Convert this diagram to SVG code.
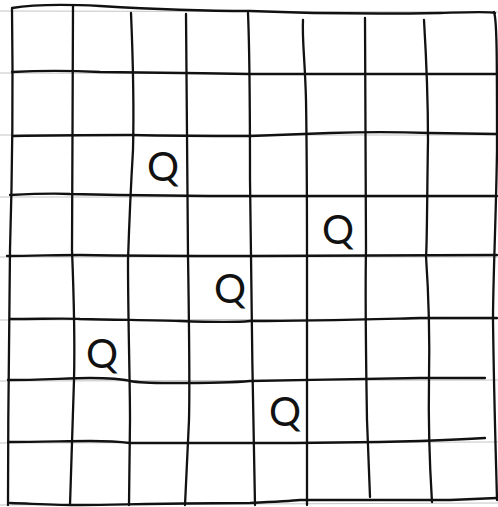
<svg xmlns="http://www.w3.org/2000/svg" width="498" height="507" viewBox="0 0 498 507">
<style>
.rule{stroke:#c4c4c4;stroke-width:1;fill:none}
.ln{stroke:#111;stroke-width:2.3;fill:none;stroke-linecap:round;stroke-linejoin:round}
.q{font-family:"Lato","DejaVu Sans",sans-serif;font-size:40px;font-weight:400;fill:#111;text-anchor:middle}
</style>
<rect width="498" height="507" fill="#fff"/>
<g id="ruling">
<line class="rule" x1="0" y1="11" x2="498" y2="12"/>
<line class="rule" x1="0" y1="73" x2="498" y2="74"/>
<line class="rule" x1="0" y1="135" x2="498" y2="135"/>
<line class="rule" x1="0" y1="197" x2="498" y2="197"/>
<line class="rule" x1="0" y1="257" x2="498" y2="257"/>
<line class="rule" x1="0" y1="320" x2="498" y2="319"/>
<line class="rule" x1="0" y1="381" x2="498" y2="380"/>
<line class="rule" x1="0" y1="443" x2="498" y2="442"/>
<line class="rule" x1="0" y1="505" x2="498" y2="503"/>
</g>
<g id="connectors">
<path class="ln" d="M12,9 C13,80 13,150 10,250 C9,330 8,420 8,505"/>
<path class="ln" d="M73,6 C73,80 72,180 72,250 C74,300 75,340 74,380 C72,440 71,480 70,505"/>
<path class="ln" d="M131,13 C133,60 134,110 133,150 C130,200 129,230 128,260 C128,320 130,380 130,420 L129,505"/>
<path class="ln" d="M186,14 C187,100 188,180 188,256 C189,320 190,380 189,420 L185,505"/>
<path class="ln" d="M248,13 C250,60 250,120 250,180 L251,256 C252,340 253,420 255,505"/>
<path class="ln" d="M303,20 C302,40 305,60 306,100 C307,160 307,250 307,256 C307,340 307,420 307,505"/>
<path class="ln" d="M365,18 C366,100 366,180 366,250 C365,300 366,360 367,420 L370,497"/>
<path class="ln" d="M424,20 C427,70 428,110 428,140 C427,200 427,250 426,256 C429,300 430,330 429,380 C428,440 430,470 432,502"/>
<path class="ln" d="M494,12 C497,20 497,60 497,150 C496,220 493,280 493,320 C494,400 496,460 497,500"/>
<path class="ln" d="M12,8 C30,5 60,4 100,6 C150,9 200,11 250,11 C300,13 380,14 440,13 C470,12 490,11 495,13"/>
<path class="ln" d="M12,72 C30,71 60,70 100,72 C160,73 200,73 250,74 L498,74"/>
<path class="ln" d="M13,136 C60,135 100,135 130,135 C180,136 220,136 250,136 C280,135 310,134 330,133 C360,132 400,132 430,133 L497,134"/>
<path class="ln" d="M10,195 C30,194 50,193 70,194 C120,195 180,196 250,196 L497,196"/>
<path class="ln" d="M7,256 C30,256 60,255 80,255 C140,256 200,256 250,256 L497,255"/>
<path class="ln" d="M10,319 C40,319 70,318 80,319 C120,320 150,320 180,321 C210,322 240,322 250,321 C320,321 380,319 420,318 L497,318"/>
<path class="ln" d="M8,380 C40,380 70,378 90,378 C110,378 122,379 130,381 C140,383 150,383 170,383 C200,383 230,383 250,381 C300,380 380,379 420,378 L485,378"/>
<path class="ln" d="M8,442 C40,442 70,441 90,441 C110,441 122,442 130,443 C180,443 220,443 250,443 C320,443 380,442 420,441 C450,440 470,439 485,438"/>
<path class="ln" d="M10,503 C40,504 60,505 80,505 C150,504 200,503 250,503 C270,502 290,501 300,500 C360,500 420,500 450,500 L497,498"/>
</g>
<g id="q1"><text class="q" x="163" y="181">Q</text></g>
<g id="q2"><text class="q" x="338" y="244">Q</text></g>
<g id="q3"><text class="q" x="230" y="303">Q</text></g>
<g id="q4"><text class="q" x="102" y="368">Q</text></g>
<g id="q5"><text class="q" x="285" y="426">Q</text></g>
</svg>
